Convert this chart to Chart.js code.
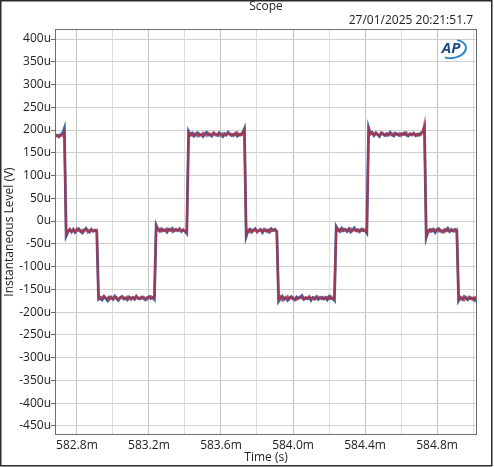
<!DOCTYPE html>
<html>
<head>
<meta charset="utf-8">
<script src="https://cdn.jsdelivr.net/npm/chart.js@4.4.1/dist/chart.umd.min.js"></script>
<style>
  html, body { margin: 0; padding: 0; background: #fff; }
  canvas { display: block; }
</style>
</head>
<body>
<canvas id="scope-chart" width="494" height="467"></canvas>
<script>
// sample clock of the scope trace (ms)
const sampleStartMs = 582.68;
const sampleStepMs = 0.01;

// channel 1 (blue), microvolts
const blueUv = [
  187, 189, 186, 190, 193, 204,
  -33, -24, -19, -23, -18, -25, -21, -17, -22, -26, -20, -16, -21, -24, -19, -22, -20, -23,
  -171, -168, -173, -166, -170, -175, -167, -169, -172, -165, -170, -174, -168, -166, -171, -169,
  -173, -167, -170, -168, -172, -166, -169, -171, -167, -170, -173, -168, -166, -170, -168, -172,
  -9, -18, -22, -17, -21, -19, -24, -18, -20, -16, -22, -19, -21, -17, -23, -20, -22, -27,
  197, 189, 193, 187, 191, 194, 188, 190, 186, 192, 195, 189, 191, 187, 193, 190,
  188, 194, 190, 186, 192, 189, 195, 191, 188, 190, 193, 187, 191, 189, 194, 203,
  -34, -22, -18, -24, -20, -17, -23, -21, -19, -25, -18, -22, -20, -24, -17, -21, -19, -23,
  -176, -170, -165, -172, -168, -174, -169, -166, -171, -173, -167, -170, -168, -164, -172, -169,
  -171, -167, -174, -168, -170, -166, -172, -169, -167, -171, -168, -173, -166, -170, -169, -174,
  -12, -19, -23, -16, -21, -18, -22, -17, -24, -20, -15, -21, -19, -23, -18, -21, -20, -26,
  205, 192, 195, 188, 193, 190, 186, 194, 191, 188, 192, 189, 195, 190, 187, 193,
  191, 188, 192, 190, 194, 189, 187, 192, 190, 193, 188, 191, 189, 193, 195, 206,
  -36, -23, -19, -22, -18, -25, -20, -17, -22, -24, -19, -21, -16, -23, -20, -22, -18, -21,
  -175, -168, -172, -166, -170, -173, -167, -171, -169, -174, -168
];

// channel 2 (red), microvolts
const redUv = [
  185, 188, 184, 189, 187, 194,
  -30, -22, -17, -25, -20, -23, -16, -21, -24, -19, -22, -18, -25, -20, -17, -23, -21, -19,
  -169, -172, -167, -164, -170, -168, -173, -166, -171, -169, -167, -172, -170, -165, -168, -171,
  -166, -170, -173, -167, -169, -164, -171, -168, -170, -166, -169, -172, -167, -165, -170, -168,
  -12, -20, -17, -23, -19, -22, -16, -21, -18, -24, -20, -17, -22, -19, -21, -18, -23, -25,
  194, 191, 188, 193, 190, 186, 192, 189, 194, 190, 187, 193, 188, 191, 195, 189,
  192, 187, 190, 193, 188, 191, 194, 189, 192, 187, 190, 195, 188, 192, 190, 198,
  -31, -20, -24, -19, -22, -18, -25, -20, -17, -23, -21, -19, -24, -18, -22, -20, -17, -22,
  -171, -166, -174, -168, -170, -165, -172, -169, -167, -171, -173, -168, -166, -170, -172, -167,
  -169, -165, -171, -168, -173, -170, -166, -169, -172, -168, -170, -167, -171, -165, -172, -170,
  -14, -21, -18, -22, -17, -20, -24, -19, -16, -22, -20, -18, -23, -19, -21, -17, -22, -25,
  201, 190, 193, 189, 195, 191, 188, 192, 194, 190, 187, 193, 190, 188, 194, 191,
  189, 193, 187, 192, 190, 195, 189, 191, 188, 193, 190, 187, 192, 189, 196, 214,
  -33, -21, -24, -18, -22, -20, -17, -23, -19, -21, -25, -18, -22, -20, -17, -21, -23, -19,
  -172, -167, -170, -174, -166, -169, -171, -168, -173, -167, -170
];

// axis ticks
const xGridMs = [582.8, 583.0, 583.2, 583.4, 583.6, 583.8, 584.0, 584.2, 584.4, 584.6, 584.8, 585.0];
const xLabelMs = [582.8, 583.2, 583.6, 584.0, 584.4, 584.8];
const yTicksUv = [400, 350, 300, 250, 200, 150, 100, 50, 0, -50, -100, -150, -200, -250, -300, -350, -400, -450];

const FONT = '"Open Sans", "Noto Sans", sans-serif';

function toPoints(values) {
  return values.map((v, i) => ({ x: sampleStartMs + i * sampleStepMs, y: v }));
}

function isLabeled(v) {
  return xLabelMs.some(l => Math.abs(l - v) < 1e-6);
}

// title, date stamp, axis titles, plot frame, AP logo
const decorations = {
  id: 'decorations',
  afterDraw(chart) {
    const { ctx, chartArea: a } = chart;
    ctx.save();

    // plot frame
    ctx.strokeStyle = '#6f6f6f';
    ctx.lineWidth = 1;
    ctx.strokeRect(a.left + 0.5, a.top + 0.5, a.right - a.left - 1, a.bottom - a.top - 1);

    ctx.fillStyle = '#222';
    ctx.font = '12px ' + FONT;
    ctx.textBaseline = 'middle';

    ctx.textAlign = 'center';
    ctx.fillText('Scope', (a.left + a.right) / 2, 7);
    ctx.fillText('Time (s)', (a.left + a.right) / 2, 458);

    ctx.textAlign = 'right';
    ctx.fillText('27/01/2025 20:21:51.7', 473, 21);

    ctx.save();
    ctx.translate(10, (a.top + a.bottom) / 2);
    ctx.rotate(-Math.PI / 2);
    ctx.textAlign = 'center';
    ctx.fillText('Instantaneous Level (V)', 0, 0);
    ctx.restore();

    // AP logo
    ctx.fillStyle = '#1c4c8c';
    ctx.font = 'italic bold 15px ' + FONT;
    ctx.textAlign = 'center';
    ctx.fillText('AP', 451, 49);
    ctx.strokeStyle = '#2b86c8';
    ctx.lineWidth = 2;
    ctx.beginPath();
    ctx.ellipse(452, 49, 14, 9, -0.15, -0.35 * Math.PI, 0.7 * Math.PI);
    ctx.stroke();

    // outer window frame
    ctx.strokeStyle = '#2a2a2a';
    ctx.lineWidth = 1.5;
    ctx.strokeRect(0.75, 0.75, 491, 465);

    ctx.restore();
  }
};

const ctx = document.getElementById('scope-chart').getContext('2d');

new Chart(ctx, {
  type: 'line',
  data: {
    datasets: [
      {
        label: 'Ch1',
        data: toPoints(blueUv),
        borderColor: '#3f62a0',
        borderWidth: 2.8,
        pointRadius: 0,
        tension: 0,
        order: 2
      },
      {
        label: 'Ch2',
        data: toPoints(redUv),
        borderColor: 'rgba(196, 42, 56, 0.74)',
        borderWidth: 2.2,
        pointRadius: 0,
        tension: 0,
        order: 1
      }
    ]
  },
  options: {
    responsive: false,
    animation: false,
    devicePixelRatio: 1,
    layout: {
      padding: { left: 0, right: 17, top: 29, bottom: 0 }
    },
    plugins: {
      legend: { display: false },
      tooltip: { enabled: false }
    },
    scales: {
      x: {
        type: 'linear',
        min: 582.678,
        max: 585.022,
        afterBuildTicks: scale => {
          scale.ticks = xGridMs.map(v => ({ value: v }));
        },
        afterFit: scale => {
          scale.height = 32;
        },
        grid: {
          color: c => (c.tick && isLabeled(c.tick.value) ? '#c2c2c2' : '#dedede'),
          drawTicks: false
        },
        border: { display: false },
        ticks: {
          color: '#222',
          font: { family: FONT, size: 12 },
          padding: 3,
          maxRotation: 0,
          autoSkip: false,
          callback: value => (isLabeled(value) ? value.toFixed(1) + 'm' : '')
        }
      },
      y: {
        type: 'linear',
        min: -470,
        max: 422,
        afterBuildTicks: scale => {
          scale.ticks = yTicksUv.map(v => ({ value: v }));
        },
        afterFit: scale => {
          scale.width = 55;
        },
        grid: {
          color: '#cfcfcf',
          tickColor: '#666',
          tickLength: 4
        },
        border: { display: false },
        ticks: {
          color: '#222',
          font: { family: FONT, size: 12 },
          padding: 0,
          autoSkip: false,
          callback: value => value + 'u'
        }
      }
    }
  },
  plugins: [decorations]
});
</script>
</body>
</html>
